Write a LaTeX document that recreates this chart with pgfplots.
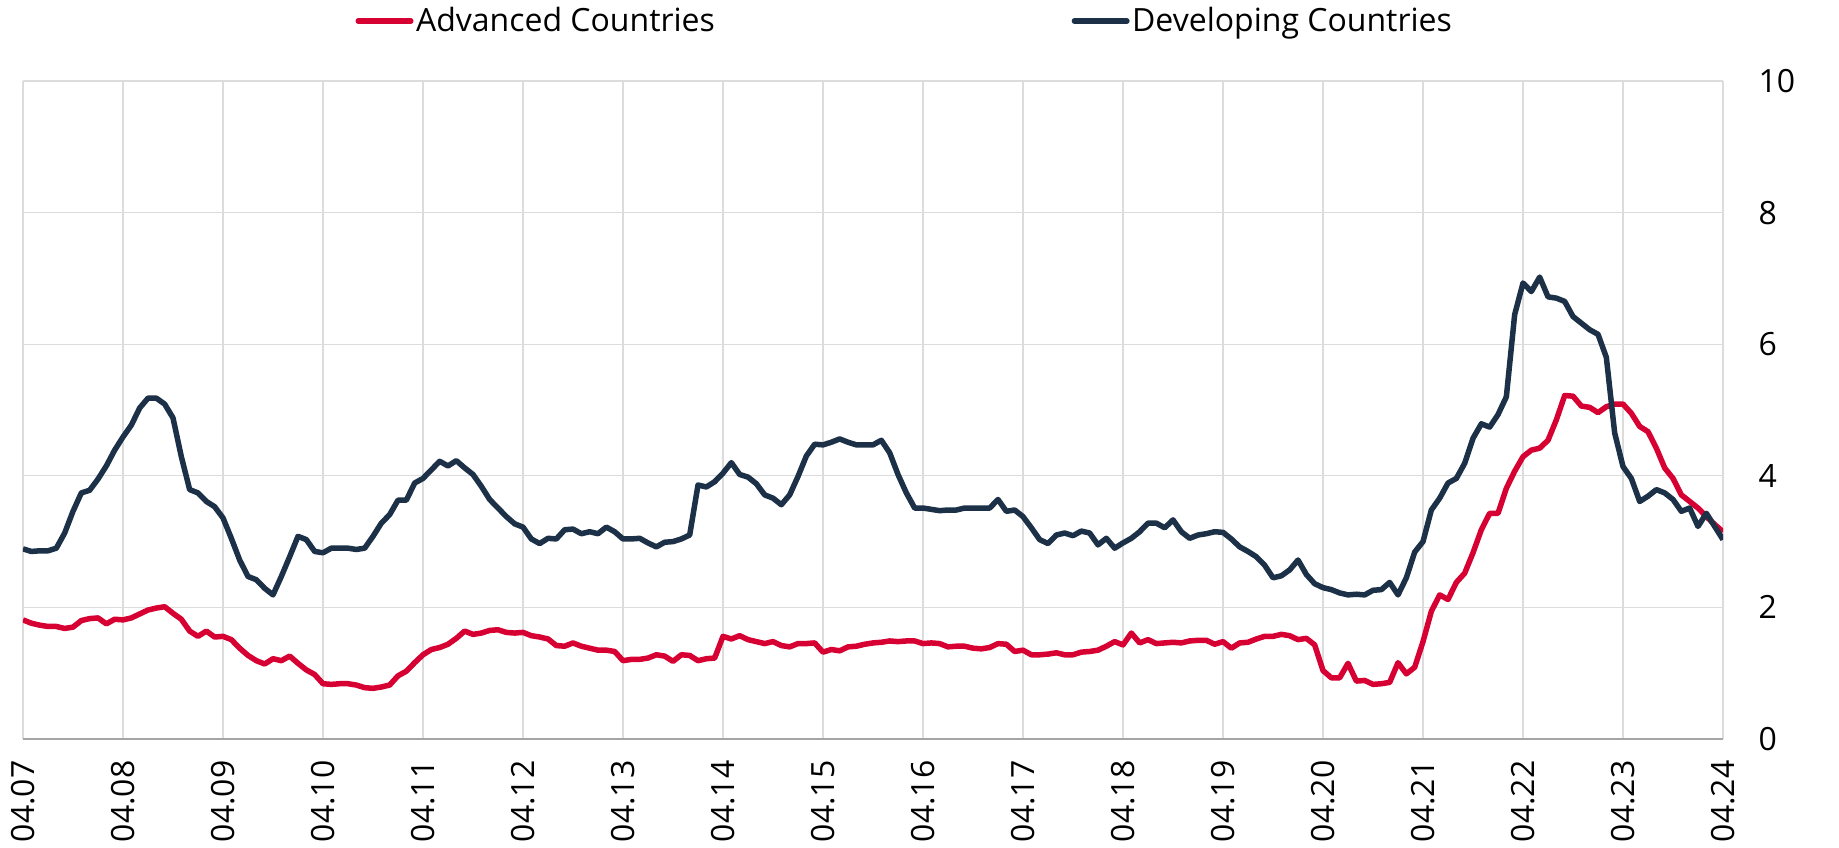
\documentclass[border=0pt]{standalone}
\usepackage{pgfplots}
\usepackage{pgfplotstable}
\pgfplotsset{compat=1.18}
\usepackage{fontspec}
\setmainfont{Open Sans}
\definecolor{adv}{RGB}{214,0,50}
\definecolor{devc}{RGB}{28,49,71}
\definecolor{gridc}{RGB}{220,220,220}
\definecolor{axc}{RGB}{165,165,165}

\pgfplotstableread{
m v
0 1.81
1 1.76
2 1.73
3 1.71
4 1.71
5 1.68
6 1.70
7 1.80
8 1.83
9 1.84
10 1.75
11 1.82
12 1.81
13 1.84
14 1.90
15 1.96
16 1.99
17 2.01
18 1.91
19 1.82
20 1.64
21 1.56
22 1.64
23 1.55
24 1.56
25 1.51
26 1.38
27 1.27
28 1.19
29 1.14
30 1.22
31 1.19
32 1.26
33 1.15
34 1.05
35 0.98
36 0.84
37 0.83
38 0.84
39 0.84
40 0.82
41 0.78
42 0.77
43 0.79
44 0.82
45 0.96
46 1.03
47 1.16
48 1.28
49 1.36
50 1.39
51 1.44
52 1.53
53 1.64
54 1.59
55 1.61
56 1.65
57 1.66
58 1.62
59 1.61
60 1.62
61 1.57
62 1.55
63 1.52
64 1.42
65 1.41
66 1.46
67 1.41
68 1.38
69 1.35
70 1.35
71 1.33
72 1.19
73 1.21
74 1.21
75 1.23
76 1.28
77 1.26
78 1.18
79 1.28
80 1.27
81 1.19
82 1.22
83 1.23
84 1.56
85 1.52
86 1.57
87 1.51
88 1.48
89 1.45
90 1.48
91 1.42
92 1.40
93 1.45
94 1.45
95 1.46
96 1.32
97 1.36
98 1.34
99 1.40
100 1.41
101 1.44
102 1.46
103 1.47
104 1.49
105 1.48
106 1.49
107 1.49
108 1.45
109 1.46
110 1.45
111 1.40
112 1.41
113 1.41
114 1.38
115 1.37
116 1.39
117 1.45
118 1.44
119 1.33
120 1.35
121 1.28
122 1.28
123 1.29
124 1.31
125 1.28
126 1.28
127 1.32
128 1.33
129 1.35
130 1.41
131 1.48
132 1.43
133 1.61
134 1.46
135 1.51
136 1.45
137 1.46
138 1.47
139 1.46
140 1.49
141 1.50
142 1.50
143 1.44
144 1.48
145 1.38
146 1.46
147 1.47
148 1.52
149 1.56
150 1.56
151 1.59
152 1.57
153 1.51
154 1.53
155 1.43
156 1.04
157 0.93
158 0.93
159 1.15
160 0.88
161 0.89
162 0.83
163 0.84
164 0.86
165 1.16
166 0.99
167 1.09
168 1.48
169 1.94
170 2.19
171 2.12
172 2.38
173 2.52
174 2.83
175 3.18
176 3.43
177 3.43
178 3.81
179 4.07
180 4.29
181 4.39
182 4.42
183 4.54
184 4.85
185 5.22
186 5.21
187 5.06
188 5.04
189 4.96
190 5.05
191 5.09
192 5.09
193 4.95
194 4.75
195 4.67
196 4.42
197 4.12
198 3.96
199 3.71
200 3.61
201 3.51
202 3.38
203 3.26
204 3.15
}\advtable

\pgfplotstableread{
m v
0 2.89
1 2.85
2 2.86
3 2.86
4 2.90
5 3.13
6 3.46
7 3.74
8 3.78
9 3.95
10 4.15
11 4.39
12 4.59
13 4.77
14 5.03
15 5.18
16 5.18
17 5.09
18 4.88
19 4.29
20 3.79
21 3.74
22 3.61
23 3.53
24 3.36
25 3.05
26 2.72
27 2.47
28 2.42
29 2.29
30 2.19
31 2.47
32 2.77
33 3.08
34 3.03
35 2.85
36 2.83
37 2.90
38 2.90
39 2.90
40 2.88
41 2.90
42 3.08
43 3.28
44 3.41
45 3.63
46 3.63
47 3.89
48 3.96
49 4.09
50 4.22
51 4.15
52 4.23
53 4.12
54 4.02
55 3.84
56 3.64
57 3.51
58 3.38
59 3.27
60 3.22
61 3.04
62 2.97
63 3.05
64 3.04
65 3.18
66 3.19
67 3.12
68 3.15
69 3.12
70 3.22
71 3.15
72 3.04
73 3.04
74 3.05
75 2.98
76 2.92
77 2.99
78 3.00
79 3.04
80 3.10
81 3.86
82 3.83
83 3.91
84 4.04
85 4.20
86 4.02
87 3.98
88 3.88
89 3.71
90 3.66
91 3.56
92 3.71
93 3.99
94 4.30
95 4.48
96 4.47
97 4.51
98 4.56
99 4.51
100 4.47
101 4.47
102 4.47
103 4.54
104 4.35
105 4.02
106 3.74
107 3.51
108 3.51
109 3.49
110 3.47
111 3.48
112 3.48
113 3.51
114 3.51
115 3.51
116 3.51
117 3.64
118 3.46
119 3.48
120 3.38
121 3.21
122 3.03
123 2.97
124 3.10
125 3.13
126 3.09
127 3.16
128 3.13
129 2.95
130 3.05
131 2.90
132 2.98
133 3.05
134 3.15
135 3.28
136 3.28
137 3.21
138 3.33
139 3.15
140 3.05
141 3.10
142 3.12
143 3.15
144 3.14
145 3.04
146 2.92
147 2.85
148 2.77
149 2.64
150 2.45
151 2.48
152 2.57
153 2.72
154 2.50
155 2.36
156 2.30
157 2.27
158 2.22
159 2.19
160 2.20
161 2.19
162 2.26
163 2.27
164 2.38
165 2.19
166 2.45
167 2.84
168 3.00
169 3.48
170 3.66
171 3.89
172 3.96
173 4.19
174 4.57
175 4.79
176 4.74
177 4.93
178 5.20
179 6.45
180 6.93
181 6.80
182 7.02
183 6.72
184 6.70
185 6.65
186 6.42
187 6.32
188 6.22
189 6.15
190 5.80
191 4.65
192 4.14
193 3.96
194 3.61
195 3.69
196 3.79
197 3.74
198 3.64
199 3.46
200 3.51
201 3.23
202 3.43
203 3.23
204 3.03
}\devtable

\begin{document}
\begin{tikzpicture}
\begin{axis}[
  at={(0,0)}, anchor=south west,
  scale only axis,
  width=680pt, height=263.2pt,
  xmin=0, xmax=204, ymin=0, ymax=10,
  xtick={0,12,...,204},
  xticklabels={04.07,04.08,04.09,04.10,04.11,04.12,04.13,04.14,04.15,04.16,04.17,04.18,04.19,04.20,04.21,04.22,04.23,04.24},
  ytick={0,2,4,6,8,10},
  axis x line*=bottom,
  axis y line*=right,
  x axis line style={draw=axc, line width=0.8pt, -},
  y axis line style={draw=none},
  major tick length=0pt,
  grid=major,
  major grid style={draw=gridc, line width=0.45pt},
  /pgf/number format/assume math mode=true,
  ticklabel style={font=\fontsize{12.8}{15}\selectfont, text=black},
  x tick label style={rotate=90, anchor=east, inner sep=0pt, xshift=-8.4pt},
  y tick label style={anchor=west, inner sep=0pt, xshift=14pt},
  legend columns=2,
  legend style={at={(0.1953,1.0912)}, anchor=west, draw=none, fill=none,
    inner sep=0pt, font=\fontsize{12.8}{15}\selectfont,
    nodes={inner sep=1pt}},
  /tikz/every even column/.append style={column sep=141.7pt},
  legend image code/.code={\draw[#1, line cap=round] (0pt,0pt) -- (21pt,0pt);},
  every axis plot/.append style={line width=2.2pt, line join=round},
]
\addplot[adv] table[x=m, y=v] {\advtable};
\addlegendentry{Advanced Countries}
\addplot[devc] table[x=m, y=v] {\devtable};
\addlegendentry{Developing Countries}
\end{axis}
\pgfresetboundingbox
\path (-9.2pt,-43.6pt) rectangle (726.4pt,295.6pt);
\end{tikzpicture}
\end{document}
